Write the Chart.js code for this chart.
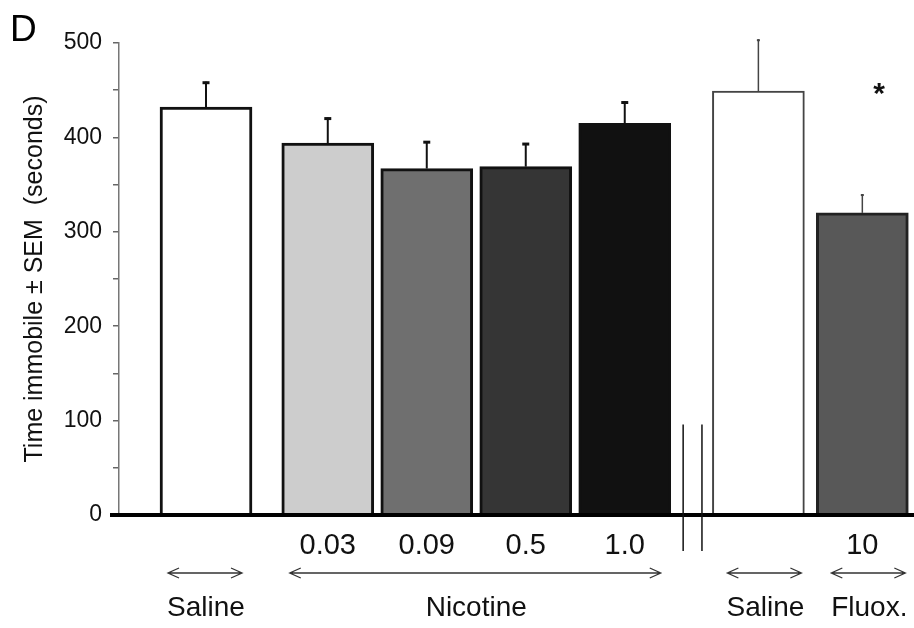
<!DOCTYPE html>
<html>
<head>
<meta charset="utf-8">
<script src="https://cdn.jsdelivr.net/npm/chart.js@4.4.1/dist/chart.umd.min.js"></script>
<style>
  body { margin: 0; background: #fff; }
  #wrap { width: 914px; height: 628px; }
</style>
</head>
<body>
<div id="wrap"><canvas id="myChart" width="914" height="628"></canvas></div>
<script>
// values (seconds)
const groups = ["Saline", "Nicotine", "Saline", "Fluox."];
const groupFirst = [0, 1, 5, 6];
const groupLast = [0, 4, 5, 6];
const doses = ["", "0.03", "0.09", "0.5", "1.0", "", "10"];
const meanTime = [432, 394, 367, 369, 415, 449, 320];
const semTime = [27, 27, 29, 25, 23, 55, 20];
const yTicks = [0, 100, 200, 300, 400, 500];
const starBar = 6;

const barColors = ["#ffffff", "#cdcdcd", "#6f6f6f", "#353535", "#111111", "#ffffff", "#585858"];
// extra space between groups, in bar slots
const gapBefore = [0, 0.23, 0, 0, 0, 0.35, 0.05];
const xPos = [];
let acc = 0;
gapBefore.forEach((g, i) => { acc += g; xPos.push(i + acc); });

const FONT = "'Liberation Sans', Arial, sans-serif";

const extras = {
  id: 'extras',
  afterDatasetsDraw(chart) {
    const ctx = chart.ctx;
    const xs = chart.scales.x, ys = chart.scales.y;
    const base = ys.getPixelForValue(0);
    ctx.save();

    // error bars (upper only)
    meanTime.forEach((m, i) => {
      const x = xs.getPixelForValue(xPos[i]);
      const y1 = ys.getPixelForValue(m);
      const y2 = ys.getPixelForValue(m + semTime[i]);
      const thin = i >= 5;
      ctx.strokeStyle = thin ? '#444' : '#111';
      ctx.lineWidth = thin ? 1.5 : 2;
      ctx.beginPath();
      ctx.moveTo(x, y1);
      ctx.lineTo(x, y2);
      ctx.stroke();
      ctx.lineWidth = thin ? 2 : 3;
      const cw = thin ? 1.5 : 3.5;
      ctx.beginPath();
      ctx.moveTo(x - cw, y2 + 1);
      ctx.lineTo(x + cw, y2 + 1);
      ctx.stroke();
    });

    // thick x axis line
    ctx.strokeStyle = '#000';
    ctx.lineWidth = 4;
    ctx.beginPath();
    ctx.moveTo(chart.chartArea.left - 9, base);
    ctx.lineTo(chart.width, base);
    ctx.stroke();

    // axis break marks
    ctx.lineWidth = 1.5;
    ctx.strokeStyle = '#111';
    [4.82, 5.01].forEach(v => {
      const x = xs.getPixelForValue(v);
      ctx.beginPath();
      ctx.moveTo(x, ys.getPixelForValue(96));
      ctx.lineTo(x, base + 36);
      ctx.stroke();
    });

    // group arrows and names
    ctx.strokeStyle = '#333';
    ctx.fillStyle = '#111';
    ctx.lineWidth = 1.3;
    ctx.font = '28px ' + FONT;
    ctx.textAlign = 'center';
    ctx.textBaseline = 'middle';
    const ay = base + 58;
    groups.forEach((name, g) => {
      const shift = g >= 2 ? 5 : -2;
      const xa = xs.getPixelForValue(xPos[groupFirst[g]]) - 36 + shift;
      const xb = xs.getPixelForValue(xPos[groupLast[g]]) + 38 + shift;
      ctx.beginPath();
      ctx.moveTo(xa, ay);
      ctx.lineTo(xb, ay);
      ctx.moveTo(xa + 11, ay - 5);
      ctx.lineTo(xa, ay);
      ctx.lineTo(xa + 11, ay + 5);
      ctx.moveTo(xb - 11, ay - 5);
      ctx.lineTo(xb, ay);
      ctx.lineTo(xb - 11, ay + 5);
      ctx.stroke();
      ctx.fillText(name, (xa + xb) / 2 + 1, base + 93);
    });

    // significance mark
    ctx.font = 'bold 30px ' + FONT;
    ctx.fillText('*', xs.getPixelForValue(xPos[starBar] + 0.17), ys.getPixelForValue(453) + 7);

    // panel letter
    ctx.font = '37px ' + FONT;
    ctx.textAlign = 'left';
    ctx.textBaseline = 'alphabetic';
    ctx.fillStyle = '#000';
    ctx.fillText('D', 10, 41);
    ctx.restore();
  }
};

new Chart(document.getElementById('myChart'), {
  type: 'bar',
  data: {
    datasets: [{
      data: xPos.map((x, i) => ({ x: x, y: meanTime[i] })),
      backgroundColor: barColors,
      borderColor: ['#111', '#111', '#111', '#111', '#111', '#444', '#222'],
      borderWidth: [3, 3, 3, 3, 3, 2, 3],
      borderSkipped: 'start',
      barThickness: 92
    }]
  },
  options: {
    responsive: false,
    animation: false,
    layout: { padding: { left: 20, top: 43, right: 0, bottom: 0 } },
    plugins: { legend: { display: false }, tooltip: { enabled: false } },
    scales: {
      x: {
        type: 'linear',
        offset: false,
        min: -0.879,
        max: 7.152,
        grid: { display: false, drawTicks: false },
        border: { display: false },
        afterBuildTicks: s => { s.ticks = xPos.map(v => ({ value: v })); },
        afterFit: s => { s.height = 113; },
        ticks: {
          autoSkip: false,
          maxRotation: 0,
          padding: 14,
          color: '#111',
          font: { size: 29, family: FONT },
          callback: (v, i) => doses[i]
        }
      },
      y: {
        min: 0,
        max: 500,
        afterFit: s => { s.width = 99; },
        grid: { drawOnChartArea: false, drawTicks: true, tickLength: 6, color: '#666', lineWidth: 1.5 },
        border: { display: true, color: '#777', width: 1.5 },
        ticks: {
          stepSize: 25,
          padding: 11,
          color: '#111',
          font: { size: 23, family: FONT },
          callback: v => yTicks.includes(v) ? v : ''
        },
        title: {
          display: true,
          text: 'Time immobile \u00b1 SEM  (seconds)',
          color: '#111',
          padding: 0,
          font: { size: 25, family: FONT }
        }
      }
    }
  },
  plugins: [extras]
});
</script>
</body>
</html>
